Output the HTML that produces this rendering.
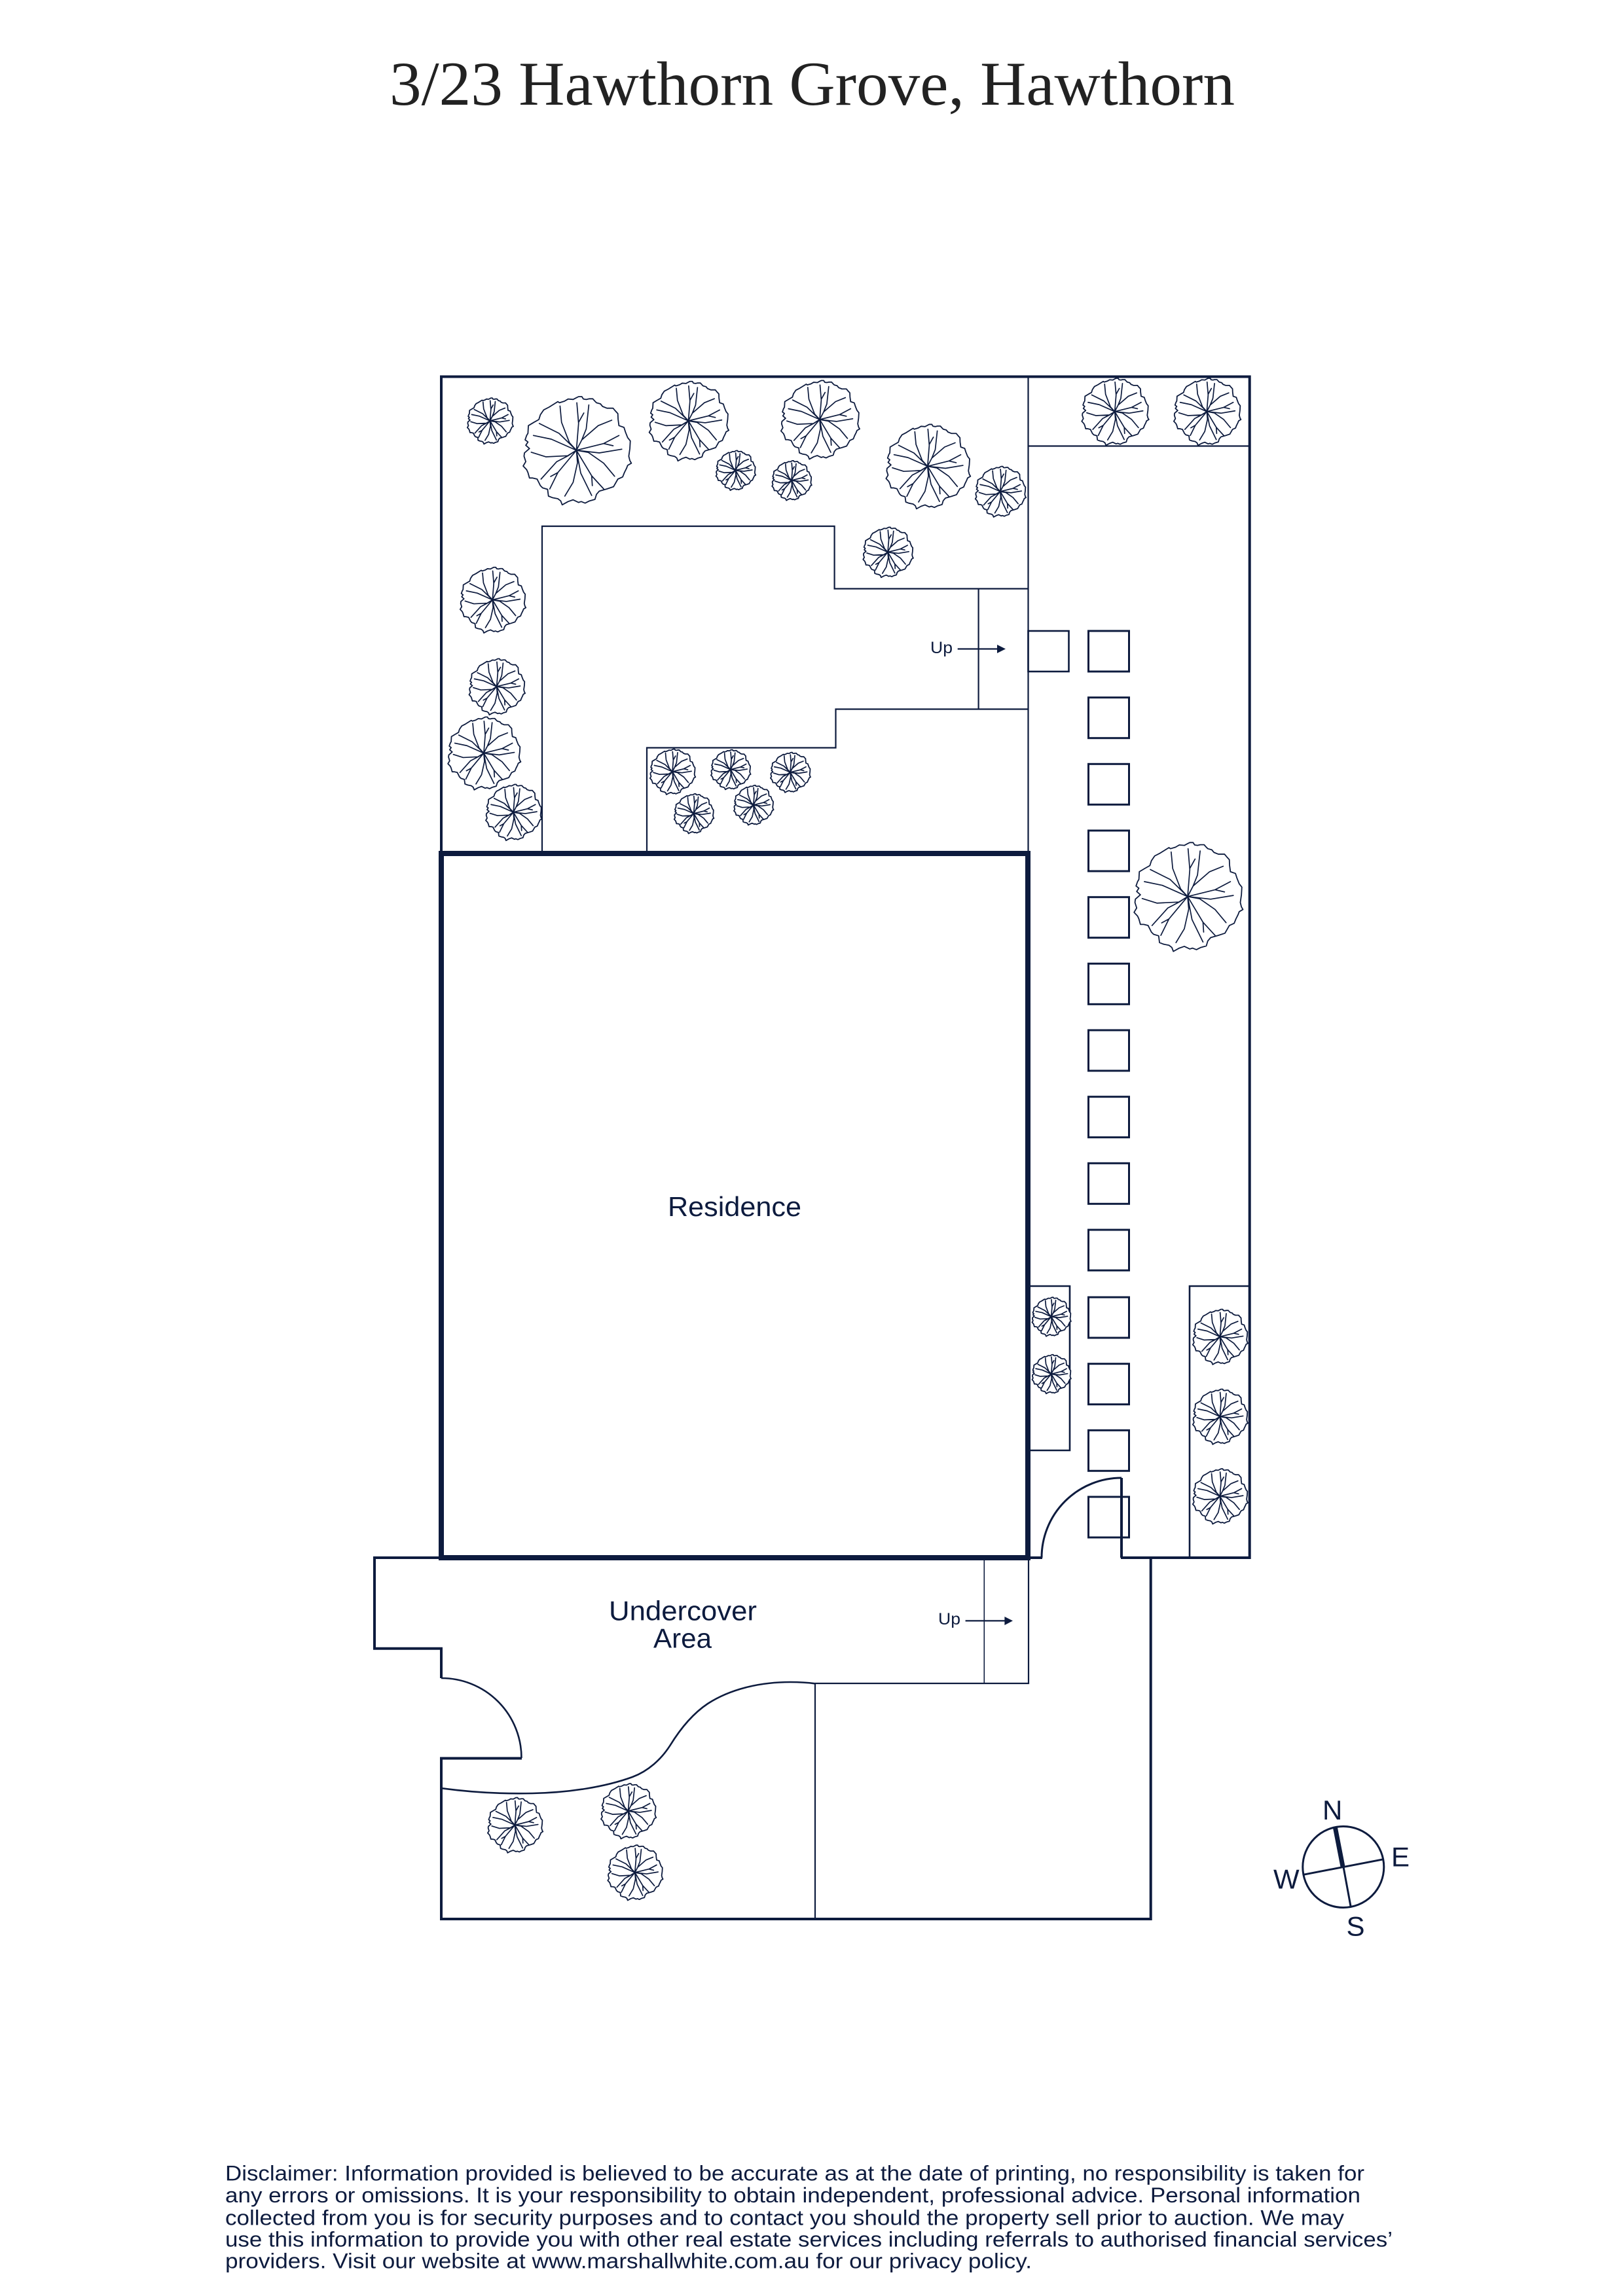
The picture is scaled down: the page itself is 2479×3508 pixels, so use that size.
<!DOCTYPE html>
<html><head><meta charset="utf-8"><title>3/23 Hawthorn Grove, Hawthorn</title>
<style>html,body{margin:0;padding:0;background:#fff}svg{display:block}
.l{font-family:"Liberation Sans",sans-serif;fill:#0d1b3e}
.n{fill:none;stroke:#0d1b3e;stroke-linejoin:miter}
</style></head><body>
<svg xmlns="http://www.w3.org/2000/svg" width="2479" height="3508" viewBox="0 0 2479 3508">
<defs>
<g id="t" transform="translate(-100,-97.67) scale(.33333)" fill="#fff" stroke="#0d1b3e" stroke-linejoin="round" stroke-linecap="round">
<polygon vector-effect="non-scaling-stroke" stroke-width="1.8" points="310,47 325,47 332,58 345,60 358,57 375,57 385,68 392,75 410,80 420,92 440,100 468,100 478,112 490,125 491,150 495,180 518,188 525,210 535,235 547,250 545,285 540,320 545,340 552,352 535,362 530,375 520,395 512,415 490,425 470,460 440,470 405,480 392,495 385,518 360,525 340,535 322,528 310,532 285,520 262,528 235,543 228,525 215,515 190,510 172,503 168,472 145,465 135,455 120,425 100,420 85,420 78,395 72,382 56,365 68,345 60,320 62,305 85,285 68,270 78,255 65,245 72,225 78,215 80,180 105,165 128,152 135,130 150,108 175,95 215,70 222,75 245,68 262,58 285,60 300,52"/>
<path vector-effect="non-scaling-stroke" stroke-width="1.7" fill="none" d="M300,293L268,258 232,165 225,90M300,293L310,170 302,75M310,165L334,122M300,293L325,245 345,195 357,85M325,245L400,180 462,155M300,293L425,262 495,225M425,262L468,272M300,293L405,305 508,288M300,293L355,303 425,352 475,412M300,293L370,410 425,470M370,410L373,455M300,293L320,398 370,500M300,293L305,350 285,440 247,503M300,293L215,395 178,470M215,395L182,413M300,293L262,318 210,345 138,425M300,293L260,318 160,323 93,302M300,293L185,242 103,225M300,293L220,215 130,170"/>
</g>
</defs>

<text x="595" y="160" font-family="'Liberation Serif',serif" font-size="95" fill="#222" textLength="1291" lengthAdjust="spacingAndGlyphs">3/23 Hawthorn Grove, Hawthorn</text>

<!-- outer upper boundary -->
<path class="n" stroke-width="4" d="M674,1304V575.5H1908.7V2380H1712"/>
<path class="n" stroke-width="2.2" d="M1570.5,575.5V1304M1570.5,681.5H1908"/>
<!-- paths -->
<path class="n" stroke-width="2.2" d="M828,1304V804H1274.6V899.5H1570.5M1494.6,899.5V1083.5M1570.5,1083.5H1276.5V1142.5H988V1304"/>
<rect class="n" stroke-width="2.6" x="1570.5" y="964" width="62" height="62"/>
<!-- stones -->
<g class="n" stroke-width="3">
<rect x="1662.5" y="964" width="62" height="62"/>
<rect x="1662.5" y="1065.7" width="62" height="62"/>
<rect x="1662.5" y="1167.3" width="62" height="62"/>
<rect x="1662.5" y="1269" width="62" height="62"/>
<rect x="1662.5" y="1370.7" width="62" height="62"/>
<rect x="1662.5" y="1472.3" width="62" height="62"/>
<rect x="1662.5" y="1574" width="62" height="62"/>
<rect x="1662.5" y="1675.7" width="62" height="62"/>
<rect x="1662.5" y="1777.3" width="62" height="62"/>
<rect x="1662.5" y="1879" width="62" height="62"/>
<rect x="1662.5" y="1982" width="62" height="62"/>
<rect x="1662.5" y="2083.7" width="62" height="62"/>
<rect x="1662.5" y="2185.3" width="62" height="62"/>
<rect x="1662.5" y="2287" width="62" height="62"/>
</g>
<!-- planters -->
<path class="n" stroke-width="2.6" d="M1574,1965H1634V2216H1574M1908,1965H1817V2380"/>
<!-- door east -->
<path class="n" stroke-width="4" d="M1713,2380V2258"/>
<path class="n" stroke-width="3" d="M1713,2258A122,122 0 0 0 1591,2380"/>
<path class="n" stroke-width="4" d="M1570,2380H1592"/>
<!-- lower -->
<path class="n" stroke-width="4" d="M1757.7,2380V2932H674V2686.5H797M674,2380H572V2518.7H674V2564"/>
<path class="n" stroke-width="2.6" d="M674,2564A122,122 0 0 1 796.5,2686"/>
<path class="n" stroke-width="2.2" d="M1245,2572V2932M1245,2572H1571V2380"/>
<path class="n" stroke-width="1.6" d="M1503.3,2380V2572"/>
<path class="n" stroke-width="2.6" d="M675,2732.3C725,2739 770,2741 813,2740C870,2739 925,2730 966,2715C990,2706 1010,2688 1023.6,2666.7C1040,2640 1060,2617 1081,2603C1115,2581 1160,2570 1207,2570Q1228,2570 1245,2572.3"/>
<!-- residence -->
<rect class="n" stroke-width="8" x="674" y="1304" width="896" height="1076"/>

<!-- trees -->
<use href="#t" transform="translate(748.4,643) scale(.425)"/>
<use href="#t" transform="translate(880.4,688)"/>
<use href="#t" transform="translate(1051.4,643) scale(.735)"/>
<use href="#t" transform="translate(1252,641) scale(.727)"/>
<use href="#t" transform="translate(1123.4,718.6) scale(.367)"/>
<use href="#t" transform="translate(1209,734) scale(.367)"/>
<use href="#t" transform="translate(1416.8,712.4) scale(.78)"/>
<use href="#t" transform="translate(1527.8,751) scale(.468)"/>
<use href="#t" transform="translate(1356,843.6) scale(.464)"/>
<use href="#t" transform="translate(752.2,916.5) scale(.607)"/>
<use href="#t" transform="translate(758.6,1049) scale(.518)"/>
<use href="#t" transform="translate(738.9,1150.7) scale(.673)"/>
<use href="#t" transform="translate(784.1,1241) scale(.518)"/>
<use href="#t" transform="translate(1027,1179) scale(.42)"/>
<use href="#t" transform="translate(1115.8,1175.7) scale(.367)"/>
<use href="#t" transform="translate(1207,1180) scale(.37)"/>
<use href="#t" transform="translate(1059.6,1243) scale(.367)"/>
<use href="#t" transform="translate(1150.8,1230) scale(.367)"/>
<use href="#t" transform="translate(1702.7,628.8) scale(.62)"/>
<use href="#t" transform="translate(1843.3,628.8) scale(.62)"/>
<use href="#t" transform="translate(1814,1369.8) scale(1.006)"/>
<use href="#t" transform="translate(1605.7,2011.7) scale(.36)"/>
<use href="#t" transform="translate(1605.7,2099.3) scale(.36)"/>
<use href="#t" transform="translate(1863.3,2042.3) scale(.51)"/>
<use href="#t" transform="translate(1863.3,2164.3) scale(.51)"/>
<use href="#t" transform="translate(1863.3,2286) scale(.51)"/>
<use href="#t" transform="translate(786.4,2788.4) scale(.51)"/>
<use href="#t" transform="translate(959.5,2767) scale(.51)"/>
<use href="#t" transform="translate(969.8,2861) scale(.51)"/>

<!-- up arrows -->
<text class="l" x="1421" y="998" font-size="25" textLength="34" lengthAdjust="spacingAndGlyphs">Up</text>
<path class="n" stroke-width="2.2" d="M1462.7,991.5H1526"/>
<polygon points="1523,985 1536,991.5 1523,998" fill="#0d1b3e"/>
<text class="l" x="1433" y="2482" font-size="25" textLength="34" lengthAdjust="spacingAndGlyphs">Up</text>
<path class="n" stroke-width="2.2" d="M1474.6,2476.4H1537"/>
<polygon points="1534.4,2470 1547,2476.4 1534.4,2483" fill="#0d1b3e"/>

<!-- labels -->
<text class="l" x="1020" y="1858" font-size="42" textLength="204" lengthAdjust="spacingAndGlyphs">Residence</text>
<text class="l" x="930" y="2475.6" font-size="42" textLength="226" lengthAdjust="spacingAndGlyphs">Undercover</text>
<text class="l" x="998" y="2517.5" font-size="42" textLength="89" lengthAdjust="spacingAndGlyphs">Area</text>

<!-- compass -->
<circle class="n" stroke-width="3" cx="2051.8" cy="2852.5" r="62"/>
<path class="n" stroke-width="3" d="M1990.7,2864.3L2113.3,2840.7M2052,2852.5L2063.3,2914"/>
<path class="n" stroke-width="7" d="M2039.3,2791.7L2051,2852"/>
<text class="l" x="2020" y="2780" font-size="42">N</text>
<text class="l" x="1945" y="2885.7" font-size="42">W</text>
<text class="l" x="2125" y="2851.7" font-size="42">E</text>
<text class="l" x="2056.5" y="2957.3" font-size="42">S</text>

<!-- disclaimer -->
<g class="l" font-size="32">
<text x="344" y="3331.7" textLength="1740" lengthAdjust="spacingAndGlyphs">Disclaimer: Information provided is believed to be accurate as at the date of printing, no responsibility is taken for</text>
<text x="344" y="3365" textLength="1734" lengthAdjust="spacingAndGlyphs">any errors or omissions. It is your responsibility to obtain independent, professional advice. Personal information</text>
<text x="344" y="3399.3" textLength="1709" lengthAdjust="spacingAndGlyphs">collected from you is for security purposes and to contact you should the property sell prior to auction. We may</text>
<text x="344" y="3432.7" textLength="1783" lengthAdjust="spacingAndGlyphs">use this information to provide you with other real estate services including referrals to authorised financial services’</text>
<text x="344" y="3465.7" textLength="1232" lengthAdjust="spacingAndGlyphs">providers. Visit our website at www.marshallwhite.com.au for our privacy policy.</text>
</g>
</svg>
</body></html>
